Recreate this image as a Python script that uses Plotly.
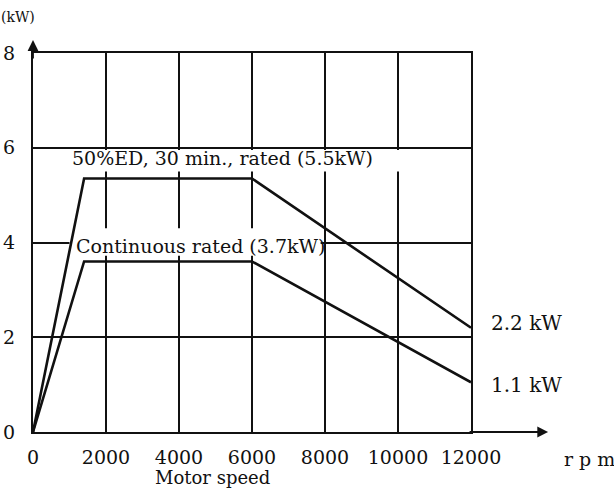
import plotly.graph_objects as go

# Data
speed_ed50 = [0, 1400, 6000, 12000]
power_ed50 = [0, 5.35, 5.35, 2.2]
speed_cont = [0, 1400, 6000, 12000]
power_cont = [0, 3.6, 3.6, 1.05]

x_ticks = [0, 2000, 4000, 6000, 8000, 10000, 12000]
y_ticks = [0, 2, 4, 6, 8]

FONT = "DejaVu Serif"
INK = "#111111"

fig = go.Figure()
fig.add_trace(go.Scatter(x=speed_ed50, y=power_ed50, mode="lines",
                         line=dict(color=INK, width=2.6), showlegend=False,
                         hoverinfo="skip"))
fig.add_trace(go.Scatter(x=speed_cont, y=power_cont, mode="lines",
                         line=dict(color=INK, width=2.6), showlegend=False,
                         hoverinfo="skip"))

# white boxes behind the curve labels (hide grid there)
fig.add_shape(type="rect", xref="x", yref="y", x0=120, x1=10500, y0=5.5, y1=5.95,
              fillcolor="white", line=dict(width=0), layer="between")
fig.add_shape(type="rect", xref="x", yref="y", x0=1000, x1=7880, y0=3.72, y1=4.3,
              fillcolor="white", line=dict(width=0), layer="between")

def txt(text, x, y, xref, yref, size, xanchor="center"):
    return dict(text=text, x=x, y=y, xref=xref, yref=yref, showarrow=False,
                xanchor=xanchor, yanchor="middle",
                font=dict(family=FONT, size=size, color=INK))

annotations = [
    txt("50%ED, 30 min., rated (5.5kW)", 5200, 5.78, "x", "y", 19),
    txt("Continuous rated (3.7kW)", 4580, 3.93, "x", "y", 19),
    txt("2.2 kW", 1.04, 2.3, "paper", "y", 20, "left"),
    txt("1.1 kW", 1.04, 1.0, "paper", "y", 20, "left"),
    txt("r p m", 1.27, -0.072, "paper", "paper", 19),
    txt("Motor speed", 0.41, -0.121, "paper", "paper", 18),
    txt("(kW)", -0.034, 1.094, "paper", "paper", 14),
    # axis arrows
    dict(text="", x=1.176, y=0, xref="paper", yref="y", ax=-80, ay=0,
         showarrow=True, arrowhead=2, arrowsize=1.2, arrowwidth=1.8, arrowcolor=INK),
    dict(text="", x=0, y=1.034, xref="paper", yref="paper", ax=0, ay=20,
         showarrow=True, arrowhead=2, arrowsize=1.2, arrowwidth=1.8, arrowcolor=INK),
]

fig.update_layout(
    width=614, height=493,
    margin=dict(l=33, r=143, t=53, b=61, autoexpand=False),
    paper_bgcolor="white", plot_bgcolor="white",
    annotations=annotations,
    font=dict(family=FONT, color=INK),
)
fig.update_xaxes(range=[0, 12000], tickvals=x_ticks, ticktext=[str(v) for v in x_ticks],
                 showgrid=True, gridcolor=INK, gridwidth=1.5,
                 showline=True, linecolor=INK, linewidth=2, mirror=True,
                 zeroline=False, ticks="", automargin=False,
                 tickfont=dict(family=FONT, size=19, color=INK),
                 ticklabelstandoff=7)
fig.update_yaxes(range=[0, 8], tickvals=y_ticks, ticktext=[str(v) for v in y_ticks],
                 showgrid=True, gridcolor=INK, gridwidth=1.5,
                 showline=True, linecolor=INK, linewidth=2, mirror=True,
                 zeroline=False, ticks="", automargin=False,
                 tickfont=dict(family=FONT, size=19, color=INK),
                 ticklabelstandoff=12)

fig.write_html("out.html")
